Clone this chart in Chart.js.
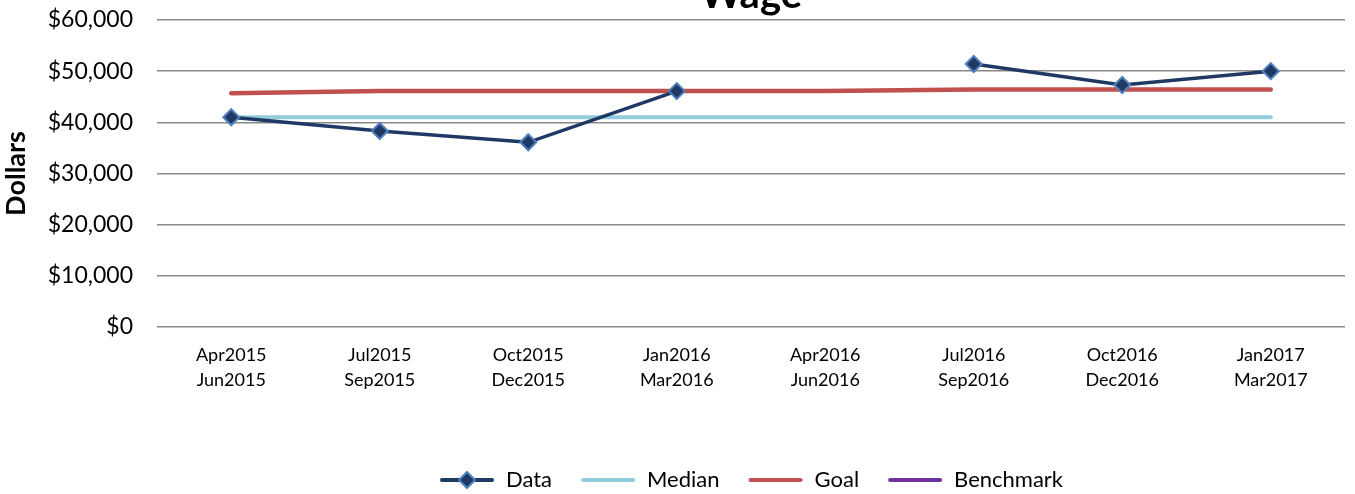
<!DOCTYPE html>
<html>
<head>
<meta charset="utf-8">
<script src="https://cdn.jsdelivr.net/npm/chart.js@4.4.1/dist/chart.umd.min.js"></script>
<style>
html, body { margin: 0; padding: 0; background: #ffffff; }
#wrap { width: 1355px; height: 494px; }
</style>
</head>
<body>
<div id="wrap"><canvas id="chartWage"></canvas></div>
<script>
const categories = [
    ["Apr2015", "Jun2015"], ["Jul2015", "Sep2015"], ["Oct2015", "Dec2015"], ["Jan2016", "Mar2016"],
    ["Apr2016", "Jun2016"], ["Jul2016", "Sep2016"], ["Oct2016", "Dec2016"], ["Jan2017", "Mar2017"]
];
const dataValues = [41000, 38300, 36100, 46100, null, 51400, 47300, 50000];
const medianValues = [41000, 41000, 41000, 41000, 41000, 41000, 41000, 41000];
const goalValues = [45700, 46100, 46100, 46100, 46100, 46400, 46400, 46400];
const benchmarkValues = [null, null, null, null, null, null, null, null];
const yMin = 0;
const yMax = 60000;
const yStep = 10000;

const fontFamily = "Lato, 'Open Sans', sans-serif";

// legend swatch: a short line, optionally with the diamond marker on it
function swatch(color, width, diamond) {
    const c = document.createElement('canvas');
    c.width = 56;
    c.height = 22;
    const ctx = c.getContext('2d');
    ctx.strokeStyle = color;
    ctx.lineWidth = width;
    ctx.lineCap = 'round';
    ctx.beginPath();
    ctx.moveTo(3, 11);
    ctx.lineTo(53, 11);
    ctx.stroke();
    if (diamond) {
        ctx.beginPath();
        ctx.moveTo(28, 3);
        ctx.lineTo(36, 11);
        ctx.lineTo(28, 19);
        ctx.lineTo(20, 11);
        ctx.closePath();
        ctx.fillStyle = '#1F3864';
        ctx.fill();
        ctx.strokeStyle = '#4F81BD';
        ctx.lineWidth = 2;
        ctx.stroke();
    }
    return c;
}

const configWage = {
    type: 'line',
    data: {
        labels: categories,
        datasets: [
            {
                label: 'Data',
                data: dataValues,
                borderColor: '#1F3864',
                borderWidth: 3.5,
                pointStyle: 'rectRot',
                pointRadius: 8,
                pointBackgroundColor: '#1F3864',
                pointBorderColor: '#4F81BD',
                pointBorderWidth: 2,
                spanGaps: false,
                tension: 0,
                order: 0
            },
            {
                label: 'Median',
                data: medianValues,
                borderColor: '#93CDDD',
                borderWidth: 4,
                borderCapStyle: 'round',
                pointRadius: 0,
                order: 2
            },
            {
                label: 'Goal',
                data: goalValues,
                borderColor: '#C0504D',
                borderWidth: 4.5,
                borderCapStyle: 'round',
                pointRadius: 0,
                order: 1
            },
            {
                label: 'Benchmark',
                data: benchmarkValues,
                borderColor: '#7030A0',
                borderWidth: 4,
                pointRadius: 0,
                order: 3
            }
        ]
    },
    options: {
        responsive: true,
        maintainAspectRatio: false,
        animation: false,
        layout: { padding: { left: 0, right: 0, top: 0, bottom: -7 } },
        plugins: {
            title: {
                display: true,
                fullSize: false,
                text: 'Wage',
                color: '#000000',
                font: { family: fontFamily, size: 40, weight: 'bold' },
                padding: { top: -29, bottom: 1 }
            },
            legend: {
                position: 'bottom',
                fullSize: false,
                labels: {
                    color: '#000000',
                    font: { family: fontFamily, size: 22 },
                    usePointStyle: true,
                    pointStyleWidth: 56,
                    padding: 28,
                    generateLabels: function (chart) {
                        const styles = [
                            swatch('#1F3864', 4, true),
                            swatch('#93CDDD', 4, false),
                            swatch('#C0504D', 4, false),
                            swatch('#7030A0', 4, false)
                        ];
                        return chart.data.datasets.map(function (ds, i) {
                            return {
                                text: ds.label,
                                pointStyle: styles[i],
                                fillStyle: ds.borderColor,
                                strokeStyle: ds.borderColor,
                                lineWidth: 0,
                                fontColor: '#000000',
                                hidden: false,
                                datasetIndex: i
                            };
                        });
                    }
                }
            },
            tooltip: { enabled: false }
        },
        scales: {
            x: {
                offset: true,
                grid: { display: false, drawTicks: false },
                border: { display: false },
                ticks: {
                    color: '#000000',
                    font: { family: fontFamily, size: 18, lineHeight: 1.38 },
                    padding: 16,
                    maxRotation: 0,
                    autoSkip: false
                },
                afterFit: function (scale) { scale.height = 114; }
            },
            y: {
                min: yMin,
                max: yMax,
                grid: { color: '#888888', lineWidth: 1.5, drawTicks: false },
                border: { display: false },
                ticks: {
                    stepSize: yStep,
                    color: '#000000',
                    font: { family: fontFamily, size: 23 },
                    padding: 24,
                    callback: function (v) { return '$' + v.toLocaleString('en-US'); }
                },
                title: {
                    display: true,
                    text: 'Dollars',
                    color: '#000000',
                    font: { family: fontFamily, size: 27, weight: 'bold' },
                    padding: { top: 0, bottom: 0 }
                },
                afterFit: function (scale) {
                    scale.width = 157;
                    scale.paddingTop = 10;
                    scale.paddingBottom = 10;
                }
            }
        }
    }
};

var chartWage = new Chart(document.getElementById('chartWage'), configWage);
</script>
</body>
</html>
